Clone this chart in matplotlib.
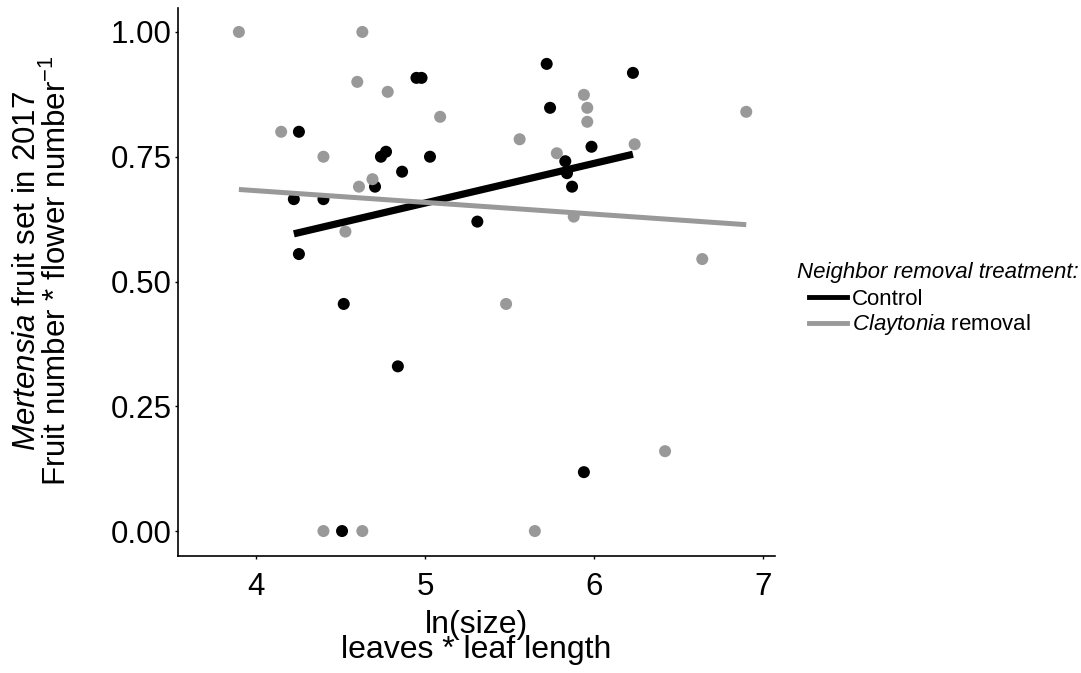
import numpy as np
import matplotlib.pyplot as plt
from matplotlib.lines import Line2D

plt.rcParams['font.family'] = ['Liberation Sans', 'DejaVu Sans']
plt.rcParams['mathtext.fontset'] = 'custom'
plt.rcParams['mathtext.rm'] = 'Liberation Sans'
plt.rcParams['mathtext.it'] = 'Liberation Sans:italic'

# Control plants: ln(size) and fruit set
ctrl_x = [4.95, 4.98, 4.255, 4.74, 4.77, 5.03, 4.865, 4.705, 4.225, 4.40,
          4.255, 5.31, 5.72, 6.23, 5.74, 5.985, 5.83, 5.84, 5.87, 4.52,
          4.84, 4.51, 5.94]
ctrl_y = [0.908, 0.908, 0.80, 0.75, 0.76, 0.75, 0.72, 0.69, 0.665, 0.665,
          0.555, 0.62, 0.936, 0.918, 0.848, 0.77, 0.741, 0.717, 0.69, 0.455,
          0.33, 0.0, 0.118]

# Claytonia removal plants
rem_x = [3.90, 4.63, 4.60, 4.78, 4.15, 4.40, 5.09, 4.61, 4.69, 4.53,
         5.56, 5.78, 5.94, 5.96, 5.96, 6.24, 6.90, 5.88, 6.64, 5.48,
         6.42, 5.65, 4.40, 4.63]
rem_y = [1.00, 1.00, 0.90, 0.88, 0.80, 0.75, 0.83, 0.69, 0.705, 0.60,
         0.785, 0.757, 0.874, 0.848, 0.82, 0.775, 0.84, 0.63, 0.545, 0.455,
         0.16, 0.0, 0.0, 0.0]

groups = [("Control", ctrl_x, ctrl_y, "black", 5.2),
          ("$\\mathit{Claytonia}$ removal", rem_x, rem_y, "#999999", 3.6)]

fig = plt.figure(figsize=(10.81, 6.73), dpi=100)
ax = fig.add_axes([178 / 1081, 1 - 556 / 673, (775 - 178) / 1081, (556 - 8) / 673])

for name, x, y, col, lw in groups:
    ax.scatter(x, y, s=75, color=col, edgecolors='none', zorder=2)

handles = []
for name, x, y, col, lw in groups:
    x = np.array(x)
    b, a = np.polyfit(x, np.array(y), 1)
    xs = np.array([x.min(), x.max()])
    ax.plot(xs, a + b * xs, color=col, lw=lw, solid_capstyle='butt', zorder=3)
    handles.append(Line2D([], [], color=col, lw=3.5, label=name))

ax.set_xlim(3.54, 7.07)
ax.set_ylim(-0.05, 1.048)
ax.set_xticks([4, 5, 6, 7])
ax.set_yticks([0, 0.25, 0.5, 0.75, 1.0])
ax.set_yticklabels(["0.00", "0.25", "0.50", "0.75", "1.00"])
ax.tick_params(labelsize=22.5, length=2.5, width=1, colors='black')
ax.tick_params(axis='x', pad=9)
ax.tick_params(axis='y', pad=2)
for s in ['top', 'right']:
    ax.spines[s].set_visible(False)
for s in ['left', 'bottom']:
    ax.spines[s].set_linewidth(1.2)

ax.set_ylabel("$\\mathit{Mertensia}$ fruit set in 2017\n"
              "Fruit number * flower number$^{-1}$",
              fontsize=22.5, linespacing=0.98)
ax.yaxis.set_label_coords(-0.176, 0.52)
ax.set_xlabel("ln(size)\nleaves * leaf length", fontsize=23,
              linespacing=0.8)
ax.xaxis.set_label_coords(0.5, -0.098)

fig.text(797 / 1081, 1 - 278 / 673, "Neighbor removal treatment:",
         fontsize=16, style='italic', va='baseline', ha='left')
fig.legend(handles=handles, loc='center left',
           bbox_to_anchor=(809 / 1081, 1 - 313 / 673), frameon=False,
           fontsize=16, handlelength=1.7, handletextpad=0.25,
           labelspacing=0.12, borderpad=0, borderaxespad=0)

fig.savefig("out.png", dpi=100)
